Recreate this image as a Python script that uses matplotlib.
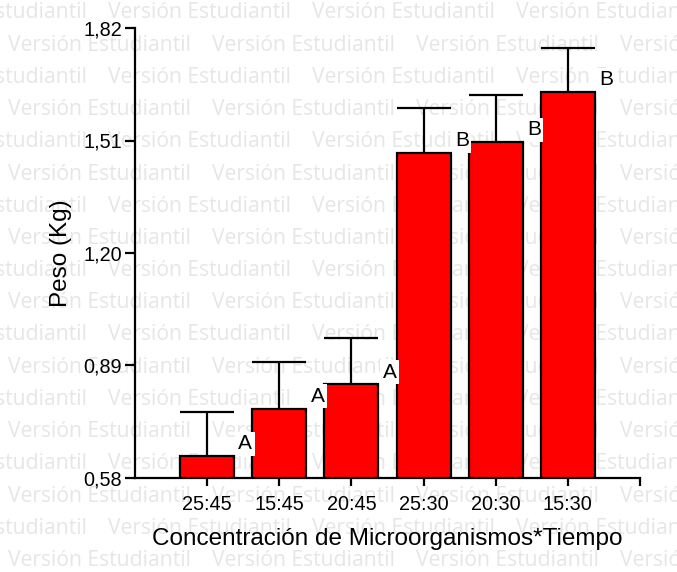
import numpy as np
import matplotlib.pyplot as plt
from matplotlib.ticker import FuncFormatter

# Data
categorias = ["25:45", "15:45", "20:45", "25:30", "20:30", "15:30"]
peso_medio = [0.641, 0.771, 0.838, 1.476, 1.506, 1.643]
error_sup = [0.122, 0.128, 0.129, 0.123, 0.129, 0.122]
letras = ["A", "A", "A", "B", "B", "B"]
yticks = [0.58, 0.89, 1.20, 1.51, 1.82]

plt.rcParams['font.family'] = ['Liberation Sans', 'DejaVu Sans']

fig = plt.figure(figsize=(6.77, 5.72), dpi=100)
ax = fig.add_axes([135/677, 1-478/572, 505/677, 450/572])
ax.set_facecolor('none')

# Watermark "Versión Estudiantil" tiled behind the chart
W, H = 677, 572
periodo = 204
for fila in range(18):
    yp = 13 + fila*32.2
    x0 = -96 if fila % 2 == 0 else 8
    for k in range(5):
        xp = x0 + k*periodo
        fig.text(xp/W, 1 - yp/H, "Versión Estudiantil", fontsize=15.2,
                 family=['Open Sans', 'DejaVu Sans'], color='#e6e6e6',
                 ha='left', va='center', zorder=-5)

x = np.arange(1, len(categorias)+1)
ancho = 0.75
lw = 1.6

ax.bar(x, np.array(peso_medio) - 0.58, bottom=0.58, width=ancho,
       color='#ff0000', edgecolor='black', linewidth=lw, zorder=3)
tope = np.array(peso_medio) + np.array(error_sup)
ax.vlines(x, peso_medio, tope, color='black', linewidth=lw, zorder=2)
ax.hlines(tope, x - ancho/2, x + ancho/2, color='black', linewidth=lw, zorder=2)

for xi, yi, letra in zip(x, peso_medio, letras):
    ax.annotate(letra, (xi + 0.53, yi), xytext=(0, 2), textcoords='offset points',
                ha='center', va='bottom', fontsize=15,
                bbox=dict(boxstyle='square,pad=0.12', fc='white', ec='none'),
                zorder=5)

ax.set_xlim(0, 7)
ax.set_ylim(0.58, 1.82)
ax.set_yticks(yticks)
ax.yaxis.set_major_formatter(FuncFormatter(lambda v, p: f"{v:.2f}".replace('.', ',')))
ax.set_xticks(x)
ax.set_xticklabels(categorias)
ax.set_xticks([7], minor=True)

for s in ['top', 'right']:
    ax.spines[s].set_visible(False)
for s in ['left', 'bottom']:
    ax.spines[s].set_linewidth(lw)

ax.tick_params(axis='y', length=7, width=lw, labelsize=14.3, pad=2.5)
ax.tick_params(axis='x', which='both', length=5.5, width=lw, labelsize=14.3, pad=7)

ax.set_ylabel("Peso (Kg)", fontsize=17.5, labelpad=8)
ax.set_xlabel("Concentración de Microorganismos*Tiempo", fontsize=17.5, labelpad=10)

fig.savefig("out.png", dpi=100)
